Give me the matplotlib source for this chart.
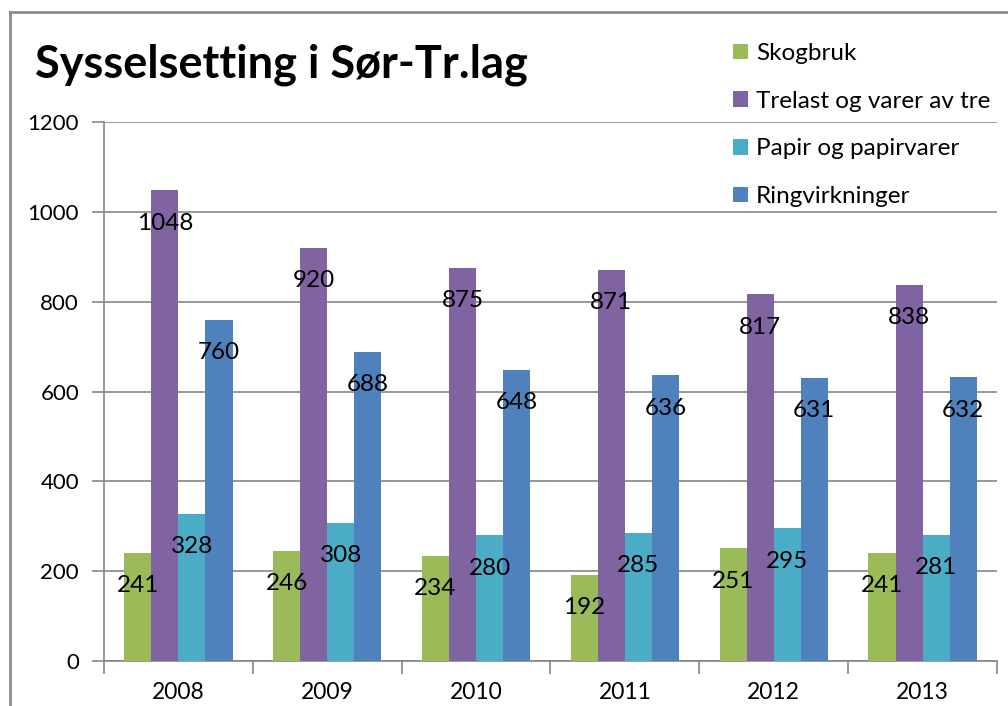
import matplotlib
matplotlib.use("Agg")
import matplotlib.pyplot as plt
import numpy as np
from matplotlib.lines import Line2D

years = ["2008", "2009", "2010", "2011", "2012", "2013"]
series_names = ["Skogbruk", "Trelast og varer av tre", "Papir og papirvarer", "Ringvirkninger"]
skogbruk = [241, 246, 234, 192, 251, 241]
trelast = [1048, 920, 875, 871, 817, 838]
papir = [328, 308, 280, 285, 295, 281]
ringvirkninger = [760, 688, 648, 636, 631, 632]
colors = ["#9BBB59", "#8064A2", "#4BACC6", "#4F81BD"]
yticks = [0, 200, 400, 600, 800, 1000, 1200]

FONT = "Lato"
plt.rcParams["font.family"] = [FONT, "DejaVu Sans"]

W, H = 1008, 706
fig = plt.figure(figsize=(W / 100, H / 100), dpi=100)
ax = fig.add_axes([104 / W, 1 - 661 / H, (997 - 104) / W, (661 - 122) / H])

data = [skogbruk, trelast, papir, ringvirkninger]
n = len(data)
x = np.arange(len(years))
bw = 1 / (n + 1.5)
for i, (vals, name, c) in enumerate(zip(data, series_names, colors)):
    pos = x + (i - (n - 1) / 2) * bw
    bars = ax.bar(pos, vals, width=bw, color=c, label=name, zorder=3)
    for xp, v in zip(pos, vals):
        ax.annotate(str(v), (xp, v), xytext=(0, -33), textcoords="offset pixels",
                    ha="center", va="center", fontsize=17.5, color="#000000", zorder=5)

ax.set_xlim(-0.5, len(years) - 0.5)
ax.set_ylim(0, 1200)
ax.set_yticks(yticks)
ax.set_yticklabels([str(t) for t in yticks], fontsize=16)
ax.yaxis.grid(True, color="#868686", linewidth=1.2, zorder=0)
ax.set_axisbelow(True)
ax.set_xticks(x)
ax.set_xticklabels(years, fontsize=16.5)
ax.tick_params(axis="x", length=0, pad=15)
ax.set_xticks(np.arange(len(years) + 1) - 0.5, minor=True)
ax.tick_params(axis="x", which="minor", length=9, color="#868686", width=1.2)
ax.tick_params(axis="y", length=9, color="#868686", width=1.2, pad=9)
for s in ["top", "right"]:
    ax.spines[s].set_visible(False)
for s in ["left", "bottom"]:
    ax.spines[s].set_color("#868686")
    ax.spines[s].set_linewidth(1.2)

leg = ax.legend(loc="upper left", bbox_to_anchor=(733 / W, 1 - 43 / H),
                bbox_transform=fig.transFigure, frameon=False, fontsize=17.5,
                handlelength=0.6, handleheight=0.6, handletextpad=0.35,
                labelspacing=1.1, borderaxespad=0, borderpad=0)

fig.text(35 / W, 1 - 78 / H, "Sysselsetting i Sør-Tr.lag", fontsize=32.5,
         fontweight="bold", ha="left", va="baseline")

fig.add_artist(Line2D([10 / W, 10 / W], [0, 1 - 12 / H], color="#8c8c8c", linewidth=2,
                      transform=fig.transFigure))
fig.add_artist(Line2D([10 / W, 1], [1 - 12 / H, 1 - 12 / H], color="#8c8c8c", linewidth=2,
                      transform=fig.transFigure))

fig.savefig("out.png", dpi=100)
